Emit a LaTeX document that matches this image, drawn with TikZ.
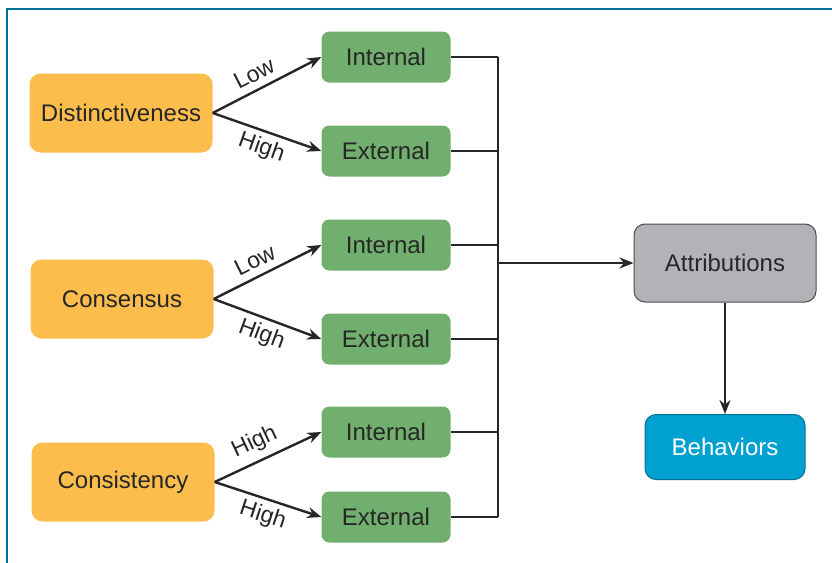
\documentclass[tikz,border=0pt]{standalone}
\usepackage{fontspec}
\setmainfont{Liberation Sans}
\usetikzlibrary{arrows.meta,positioning}

\definecolor{cueorange}{RGB}{252,189,77}
\definecolor{attgreen}{RGB}{113,175,110}
\definecolor{attgray}{RGB}{178,179,182}
\definecolor{behblue}{RGB}{0,160,208}
\definecolor{framecol}{RGB}{0,112,150}

\begin{document}
\begin{tikzpicture}[x=1pt,y=-1pt,
    every node/.style={font=\fontsize{24}{28}\selectfont, text=black!85},
    cue/.style={fill=cueorange, rounded corners=11pt, minimum width=183pt, minimum height=79pt},
    attr/.style={fill=attgreen, rounded corners=8pt, minimum width=129pt, minimum height=51pt},
    result/.style={draw=black!70, line width=1pt, rounded corners=11pt},
    branch/.style={-{Stealth[length=14pt,width=11pt]}, line width=2.4pt, black!85},
    lblup/.style={sloped, above, pos=0.45, font=\fontsize{23}{27}\selectfont, inner sep=7pt},
    lbldn/.style={sloped, below, pos=0.5, font=\fontsize{23}{27}\selectfont, inner sep=5pt},
    bus/.style={line width=2.4pt, black!85}]
    \useasboundingbox (0,0) rectangle (832,562);
    % frame
    \draw[framecol, line width=2.5pt] (7,570) -- (7,9) -- (840,9);

    % cues
    \node[cue] (dist) at (121,113) {Distinctiveness};
    \node[cue] (cons) at (122,299) {Consensus};
    \node[cue] (cist) at (123,482) {Consistency};

    % attributions per cue
    \node[attr] (int1) at (386,57) {Internal};
    \node[attr] (ext1) at (386,151) {External};
    \node[attr] (int2) at (386,245) {Internal};
    \node[attr] (ext2) at (386,339) {External};
    \node[attr] (int3) at (386,432) {Internal};
    \node[attr] (ext3) at (386,517) {External};

    \node[result, fill=attgray, minimum width=182pt, minimum height=78pt] (atts) at (725,263) {Attributions};
    \node[result, draw=framecol, fill=behblue, text=white, minimum width=160pt, minimum height=65pt] (behv) at (725,447) {Behaviors};

    \draw[branch] (dist.east) -- node[lblup] {Low} (int1.west);
    \draw[branch] (dist.east) -- node[lbldn] {High} (ext1.west);
    \draw[branch] (cons.east) -- node[lblup] {Low} (int2.west);
    \draw[branch] (cons.east) -- node[lbldn] {High} (ext2.west);
    \draw[branch] (cist.east) -- node[lblup] {High} (int3.west);
    \draw[branch] (cist.east) -- node[lbldn] {High} (ext3.west);

    % collecting line
    \coordinate (join) at (498,263);
    \foreach \n in {int1,ext1,int2,ext2,int3,ext3}
        \draw[bus] (\n.east) -- (\n.east -| join);
    \draw[bus] (int1.east -| join) -- (ext3.east -| join);
    \draw[branch] (join) -- (atts.west);
    \draw[branch] (atts.south) -- (behv.north);
\end{tikzpicture}
\end{document}
